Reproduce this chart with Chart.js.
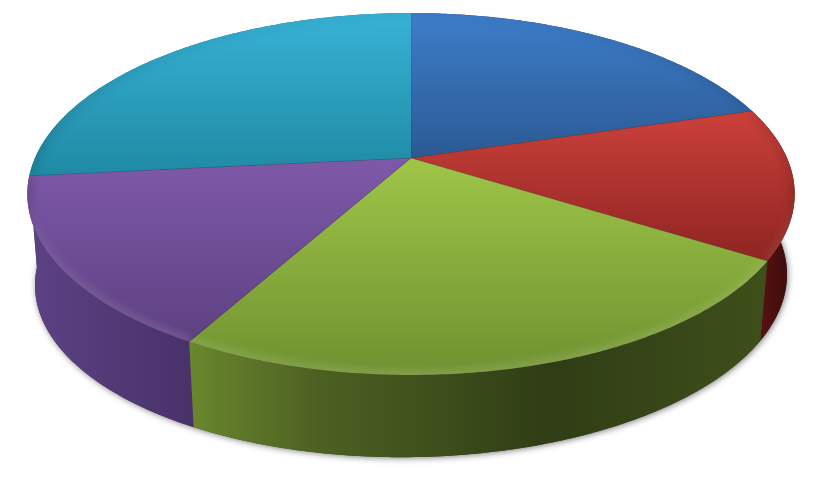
<!DOCTYPE html>
<html>
<head>
<meta charset="utf-8">
<style>html,body{margin:0;padding:0;background:#fff}canvas{display:block}</style>
<script src="https://cdn.jsdelivr.net/npm/chart.js@4"></script>
</head>
<body>
<canvas id="c" width="821" height="489"></canvas>
<script>
const categories = ['A', 'B', 'C', 'D', 'E'];
const values = [20.4, 13.5, 24.2, 15.3, 26.6];
const baseColors = ['#3a76c0', '#c0392f', '#94b944', '#7a55a3', '#31a7c9'];
const topGradients = [
  ['#3d7dca', '#2b5a93'], ['#cb413a', '#8e2421'], ['#9fc548', '#6f9130'],
  ['#7e59a9', '#5e4182'], ['#37b2d6', '#1f8aa4']
];
const wallGradients = [
  ['#1f3f68', '#1f3f68'], ['#5d1414', '#3a0a0a'], ['#6a872d', '#4d6122', '#303d15', '#3e4f1a'],
  ['#5c4284', '#49326a'], ['#1a6478', '#1a6478']
];
const P = {cx: 411, cy: 158, A: 376, B: 173.8, k: 0.199, s: 0.98, by: 244.5, skew: -5.5};
function topPoint(a) {
  const X = Math.cos(a), Y = Math.sin(a), w = 1 - P.k * Y;
  return [P.cx + P.A * X / w, P.cy + P.B * Y / w];
}
function basePoint(a) {
  const X = Math.cos(a), Y = Math.sin(a), w = 1 - P.k * Y;
  return [P.cx + P.s * P.A * X / w, P.by + P.s * P.B * Y / w + P.skew * X];
}
function arcPts(fn, a0, a1) {
  const n = Math.max(2, Math.ceil(Math.abs(a1 - a0) / 0.01)), pts = [];
  for (let i = 0; i <= n; i++) pts.push(fn(a0 + (a1 - a0) * i / n));
  return pts;
}
function trace(ctx, pts, move) {
  pts.forEach((p, i) => (i === 0 && move) ? ctx.moveTo(p[0], p[1]) : ctx.lineTo(p[0], p[1]));
}
const pie3d = {
  id: 'pie3d',
  beforeDatasetDraw(chart, args) {
    const ctx = chart.ctx, arcs = chart.getDatasetMeta(args.index).data;
    // soft ground shadow under the whole base
    ctx.save();
    ctx.shadowColor = 'rgba(0,0,0,0.5)';
    ctx.shadowBlur = 6;
    ctx.shadowOffsetX = 1;
    ctx.shadowOffsetY = 1;
    ctx.fillStyle = '#444';
    ctx.beginPath();
    trace(ctx, arcPts(basePoint, 0, Math.PI * 2), true);
    ctx.closePath();
    ctx.fill();
    ctx.restore();
    // walls, back to front
    const order = arcs.map((_, i) => i).sort((i, j) => {
      const m = e => Math.sin((e.startAngle + e.endAngle) / 2);
      return m(arcs[i]) - m(arcs[j]);
    });
    order.forEach(i => {
      const e = arcs[i], pts = arcPts(topPoint, e.startAngle, e.endAngle);
      const xs = pts.map(p => p[0]), g = ctx.createLinearGradient(Math.min(...xs), 0, Math.max(...xs), 0);
      const st = wallGradients[i];
      const stops = st.length === 4 ? [0, 0.22, 0.62, 1] : [0, 1];
      st.forEach((c, n) => g.addColorStop(stops[n], c));
      ctx.beginPath();
      trace(ctx, pts, true);
      trace(ctx, arcPts(basePoint, e.endAngle, e.startAngle), false);
      ctx.closePath();
      ctx.fillStyle = g;
      ctx.fill();
    });
    // top faces
    arcs.forEach((e, i) => {
      const pts = arcPts(topPoint, e.startAngle, e.endAngle);
      const ys = pts.map(p => p[1]).concat(P.cy);
      const g = ctx.createLinearGradient(0, Math.min(...ys), 0, Math.max(...ys));
      g.addColorStop(0, topGradients[i][0]);
      g.addColorStop(1, topGradients[i][1]);
      ctx.save();
      ctx.beginPath();
      ctx.moveTo(P.cx, P.cy);
      trace(ctx, pts, false);
      ctx.closePath();
      ctx.fillStyle = g;
      ctx.fill();
      ctx.clip();
      // soft bevel along the rim: light toward the viewer, slightly dark at the sides
      const rim = ctx.createLinearGradient(0, 20, 0, 375);
      rim.addColorStop(0, 'rgba(0,0,0,0.04)');
      rim.addColorStop(0.5, 'rgba(0,0,0,0.16)');
      rim.addColorStop(0.66, 'rgba(255,255,255,0.10)');
      rim.addColorStop(1, 'rgba(255,255,255,0.16)');
      ctx.filter = 'blur(4px)';
      ctx.strokeStyle = rim;
      ctx.lineWidth = 9;
      ctx.beginPath();
      trace(ctx, pts, true);
      ctx.stroke();
      ctx.filter = 'none';
      ctx.restore();
      // faint seam
      ctx.strokeStyle = 'rgba(30,20,20,0.14)';
      ctx.lineWidth = 1;
      ctx.beginPath();
      ctx.moveTo(P.cx, P.cy);
      ctx.lineTo(pts[0][0], pts[0][1]);
      ctx.stroke();
    });
    return false;
  }
};
new Chart(document.getElementById('c'), {
  type: 'pie',
  data: {labels: categories, datasets: [{data: values, backgroundColor: baseColors, borderWidth: 0}]},
  options: {
    responsive: false,
    animation: false,
    events: [],
    plugins: {legend: {display: false}, tooltip: {enabled: false}, title: {display: false}}
  },
  plugins: [pie3d]
});
</script>
</body>
</html>
